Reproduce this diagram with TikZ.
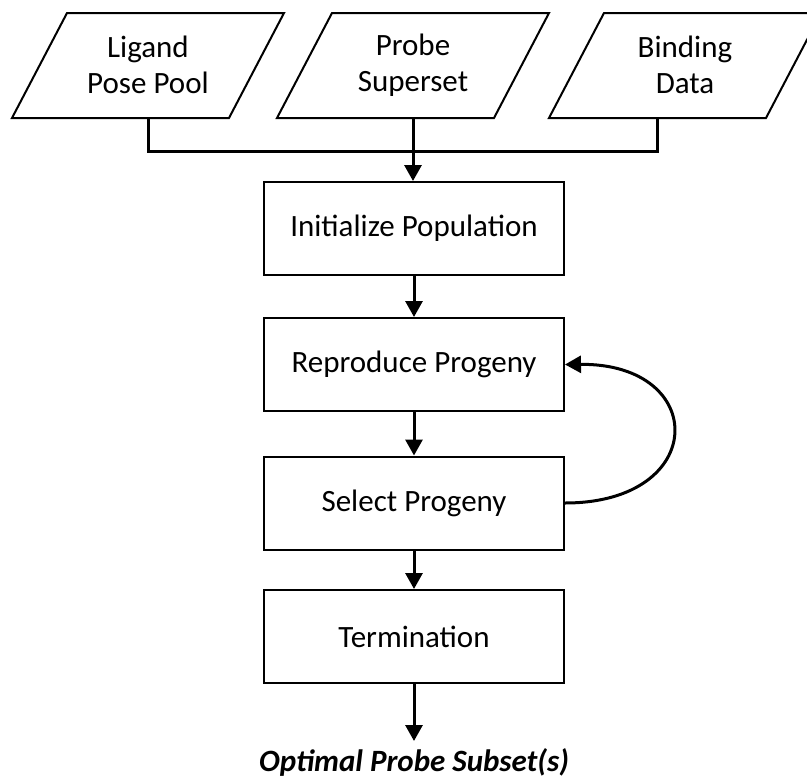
\documentclass[tikz,border=0pt]{standalone}
\usepackage{fontspec}
\setmainfont{Carlito}
\usetikzlibrary{arrows.meta}
\begin{document}
\begin{tikzpicture}[x=1pt,y=-1pt,
  txt/.style={font=\fontsize{31}{36}\selectfont, align=center, inner sep=0pt},
  stepbox/.style={draw, line width=2pt, minimum width=300pt, minimum height=93pt, font=\fontsize{31}{36}\selectfont, inner sep=0pt},
  para/.style={draw, line width=2pt, line join=miter},
  conn/.style={line width=3pt},
  arr/.style={line width=3pt, -{Triangle[width=17pt,length=16pt]}}
]
\useasboundingbox (0,0) rectangle (807,780);
% input parallelograms
\node[txt] (p1) at (148,65) {Ligand\\Pose Pool};
\node[txt] (p2) at (413,65) {Probe\\Superset};
\node[txt] (p3) at (685,65) {Binding\\Data};
\foreach \c in {148,413,685}{
  \draw[para] (\c-81,13) -- (\c+136,13) -- (\c+81,118) -- (\c-136,118) -- cycle;
}
\coordinate (p1b) at (148,118);
\coordinate (p2b) at (413,118);
\coordinate (p3b) at (657,118);
\coordinate (j1) at (148,151);
\coordinate (j3) at (657,151);
% process boxes
\node[stepbox] (b1) at (414,228.5) {Initialize Population};
\node[stepbox] (b2) at (414,364.5) {Reproduce Progeny};
\node[stepbox] (b3) at (414,503) {Select Progeny};
\node[stepbox] (b4) at (414,636.5) {Termination};
\node[font=\fontsize{31}{36}\selectfont\bfseries\itshape, inner sep=0pt] (out) at (414,762) {Optimal Probe Subset(s)};
\coordinate (oe) at (414,741);
% connectors
\draw[conn] (p1b) -- (j1) -- (j3) -- (p3b);
\draw[arr] (p2b) -- (b1.north -| p2b);
\draw[arr] (b1) -- (b2);
\draw[arr] (b2) -- (b3);
\draw[arr] (b3) -- (b4);
\draw[arr] (b4.south) -- (oe);
\draw[arr] (b3.east) .. controls (709,503) and (709,363) .. (b2.east);
\end{tikzpicture}
\end{document}
